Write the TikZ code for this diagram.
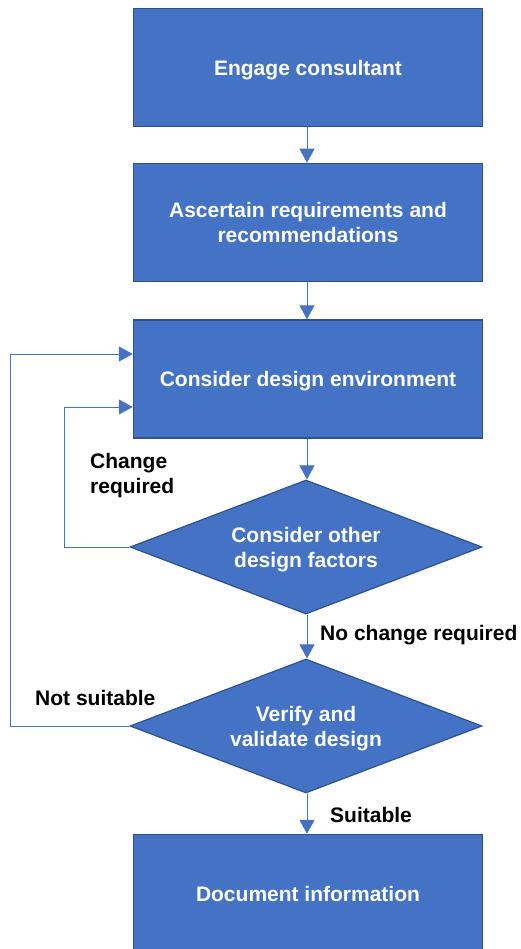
\documentclass[tikz,border=0pt]{standalone}
\usepackage{fontspec}
\setmainfont{Liberation Sans}
\usetikzlibrary{shapes.geometric,arrows.meta,calc}
\definecolor{boxfill}{HTML}{4472C4}
\definecolor{boxline}{HTML}{2F528F}
\definecolor{connc}{HTML}{4472C4}
\tikzset{
  stepbox/.style={rectangle, draw=boxline, line width=1.5pt, fill=boxfill, minimum width=349pt, minimum height=118pt, inner sep=0pt, text=white, font=\fontsize{21}{25}\selectfont\bfseries, align=center, text depth=0pt},
  decide/.style={diamond, aspect=2.63, draw=boxline, line width=1.2pt, fill=boxfill, minimum width=352pt, minimum height=134pt, inner sep=0pt, text=white, font=\fontsize{21}{25}\selectfont\bfseries, align=center, text depth=0pt},
  conn/.style={draw=connc, line width=1pt, -{Triangle[width=15pt,length=14pt]}},
  lbl/.style={font=\fontsize{21}{25}\selectfont\bfseries, text=black, align=left, anchor=west, inner sep=0pt}
}
\begin{document}
\begin{tikzpicture}[x=1pt,y=-1pt]
\useasboundingbox (0,0) rectangle (520,949);
\node[stepbox] (b1) at (308,67.5) {Engage consultant};
\node[stepbox] (b2) at (308,222.5) {Ascertain requirements and\\recommendations};
\node[stepbox] (b3) at (308,379) {Consider design environment};
\node[decide] (d1) at (306,547) {Consider other\\design factors};
\node[decide] (d2) at (306,726) {Verify and\\validate design};
\node[stepbox] (b4) at (308,893.5) {Document information};
\coordinate (inL) at (64,0);
\coordinate (outL) at (10,0);
\draw[conn] (b1.south -| 307,0) -- (b2.north -| 307,0);
\draw[conn] (b2.south -| 307,0) -- (b3.north -| 307,0);
\draw[conn] (b3.south -| 307,0) -- (d1.north -| 307,0);
\draw[conn] (d1.south -| 307,0) -- (d2.north -| 307,0);
\draw[conn] (d2.south -| 307,0) -- (b4.north -| 307,0);
\draw[conn] (d1.west) -- (d1.west -| inL) |- ($(b3.west)+(0,28)$);
\draw[conn] (d2.west) -- (d2.west -| outL) |- ($(b3.west)+(0,-25)$);
\node[lbl] (l1) at (90,476) {Change\\required};
\node[lbl] (l2) at (320,635) {No change required};
\node[lbl] (l3) at (35,698) {Not suitable};
\node[lbl] (l4) at (330,815) {Suitable};
\end{tikzpicture}
\end{document}
